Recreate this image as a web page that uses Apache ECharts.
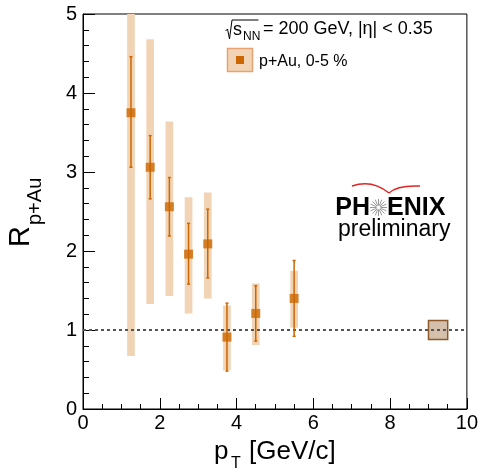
<!DOCTYPE html>
<html>
<head>
<meta charset="utf-8">
<script src="https://cdn.jsdelivr.net/npm/echarts@6/dist/echarts.min.js"></script>
<style>
html,body{margin:0;padding:0;background:#fff;}
#chart{width:481px;height:472px;}
</style>
</head>
<body>
<div id="chart"></div>
<script>
// ---- data ----
var pt     = [1.25, 1.75, 2.25, 2.75, 3.25, 3.75, 4.5, 5.5];
var rpa    = [3.75, 3.06, 2.56, 1.96, 2.09, 0.91, 1.21, 1.40];
var statLo = [3.06, 2.66, 2.19, 1.58, 1.66, 0.48, 0.86, 0.92];
var statHi = [4.46, 3.46, 2.93, 2.35, 2.53, 1.34, 1.56, 1.88];
var sysLo  = [0.67, 1.33, 1.43, 1.21, 1.40, 0.49, 0.81, 1.03];
var sysHi  = [5.00, 4.68, 3.64, 2.68, 2.74, 1.31, 1.59, 1.75];
var sysHalfWidth = 0.1;
var normBox = [9.0, 9.5, 0.88, 1.12]; // xLo, xHi, yLo, yHi
var xTicks = [0, 2, 4, 6, 8, 10];
var yTicks = [0, 1, 2, 3, 4, 5];

var ORANGE = '#cc6600';
var TAN = '#f1d4b5';
var FONT = '"Liberation Sans", Arial, sans-serif';

var chart = echarts.init(document.getElementById('chart'), null, {renderer: 'canvas'});

var sysData = pt.map(function (x, i) { return [x, sysLo[i], sysHi[i]]; });
var statData = pt.map(function (x, i) { return [x, statLo[i], statHi[i]]; });
var ptsData = pt.map(function (x, i) { return [x, rpa[i]]; });

var starChildren = [];
for (var k = 0; k < 16; k++) {
  var ang = k * Math.PI / 8;
  starChildren.push({type: 'line', shape: {x1: 2 * Math.cos(ang), y1: 2 * Math.sin(ang), x2: 8.5 * Math.cos(ang), y2: 8.5 * Math.sin(ang)},
    style: {stroke: '#9a9a9a', lineWidth: 1}});
}

var option = {
  animation: false,
  backgroundColor: '#fff',
  grid: {left: 83, right: 13, top: 14, bottom: 63, show: true, borderColor: '#000', borderWidth: 1, backgroundColor: 'transparent'},
  xAxis: {
    type: 'value', min: xTicks[0], max: xTicks[xTicks.length - 1], interval: 2,
    axisLine: {show: true, onZero: false, lineStyle: {color: '#000', width: 1}},
    axisTick: {show: true, inside: true, length: 11, lineStyle: {color: '#000'}},
    minorTick: {show: true, splitNumber: 4, length: 5, lineStyle: {color: '#000'}},
    splitLine: {show: false},
    axisLabel: {color: '#000', fontSize: 20, fontFamily: FONT, margin: 4,
      formatter: function (v) { return xTicks.indexOf(v) >= 0 ? String(v) : ''; }}
  },
  yAxis: {
    type: 'value', min: yTicks[0], max: yTicks[yTicks.length - 1], interval: 1,
    axisLine: {show: true, onZero: false, lineStyle: {color: '#000', width: 1}},
    axisTick: {show: true, inside: true, length: 12, lineStyle: {color: '#000'}},
    minorTick: {show: true, splitNumber: 5, length: 6, lineStyle: {color: '#000'}},
    splitLine: {show: false},
    axisLabel: {color: '#000', fontSize: 20, fontFamily: FONT, margin: 6,
      formatter: function (v) { return yTicks.indexOf(v) >= 0 ? String(v) : ''; }}
  },
  series: [
    {
      type: 'custom', name: 'sys', clip: true, z: 2,
      data: sysData,
      renderItem: function (params, api) {
        var x = api.value(0), lo = api.value(1), hi = api.value(2);
        var p1 = api.coord([x - sysHalfWidth, hi]);
        var p2 = api.coord([x + sysHalfWidth, lo]);
        return {type: 'rect', shape: {x: p1[0], y: p1[1], width: p2[0] - p1[0], height: p2[1] - p1[1]},
          style: {fill: TAN}};
      }
    },
    {
      type: 'custom', name: 'norm', z: 2,
      data: [normBox],
      renderItem: function (params, api) {
        var p1 = api.coord([api.value(0), api.value(3)]);
        var p2 = api.coord([api.value(1), api.value(2)]);
        return {type: 'rect', shape: {x: p1[0], y: p1[1], width: p2[0] - p1[0], height: p2[1] - p1[1]},
          style: {fill: '#d5c0ab', stroke: '#8c5a2c', lineWidth: 1.5}};
      }
    },
    {
      type: 'line', name: 'unity', z: 3, symbol: 'none', silent: true,
      data: [[xTicks[0], 1], [xTicks[xTicks.length - 1], 1]],
      lineStyle: {color: '#555', width: 2, type: [3, 3]}
    },
    {
      type: 'custom', name: 'stat', z: 4,
      data: statData,
      renderItem: function (params, api) {
        var x = api.value(0);
        var a = api.coord([x, api.value(2)]);
        var b = api.coord([x, api.value(1)]);
        var st = {stroke: ORANGE, lineWidth: 1.5};
        return {type: 'group', children: [
          {type: 'line', shape: {x1: a[0], y1: a[1], x2: b[0], y2: b[1]}, style: st},
          {type: 'line', shape: {x1: a[0] - 1.5, y1: a[1], x2: a[0] + 1.5, y2: a[1]}, style: st},
          {type: 'line', shape: {x1: b[0] - 1.5, y1: b[1], x2: b[0] + 1.5, y2: b[1]}, style: st}
        ]};
      }
    },
    {
      type: 'scatter', name: 'p+Au, 0-5 %', z: 5,
      data: ptsData, symbol: 'rect', symbolSize: 9,
      itemStyle: {color: ORANGE}
    }
  ],
  graphic: [
    // y axis title
    {type: 'text', x: 21, y: 247, rotation: Math.PI / 2,
      style: {text: 'R', font: '29px ' + FONT, fill: '#000', align: 'left', verticalAlign: 'middle'}},
    {type: 'text', x: 35, y: 225, rotation: Math.PI / 2,
      style: {text: 'p+Au', font: '20px ' + FONT, fill: '#000', align: 'left', verticalAlign: 'middle'}},
    // x axis title
    {type: 'text', x: 214, y: 452,
      style: {text: 'p', font: '26px ' + FONT, fill: '#000', align: 'left', verticalAlign: 'middle'}},
    {type: 'text', x: 231, y: 464,
      style: {text: 'T', font: '16px ' + FONT, fill: '#000', align: 'left', verticalAlign: 'middle'}},
    {type: 'text', x: 249, y: 452,
      style: {text: '[GeV/c]', font: '26px ' + FONT, fill: '#000', align: 'left', verticalAlign: 'middle'}},
    // legend header: sqrt(s_NN) = 200 GeV, |eta| < 0.35
    {type: 'polyline', shape: {points: [[225.5, 31], [227.5, 29], [229.5, 39], [232, 20], [258.5, 20]]},
      style: {stroke: '#000', lineWidth: 1, fill: null}},
    {type: 'text', x: 233, y: 30,
      style: {text: 's', font: '18px ' + FONT, fill: '#000', align: 'left', verticalAlign: 'middle'}},
    {type: 'text', x: 243, y: 36.5,
      style: {text: 'NN', font: '12px ' + FONT, fill: '#000', align: 'left', verticalAlign: 'middle'}},
    {type: 'text', x: 263, y: 29.5,
      style: {text: '= 200 GeV, |\u03b7| < 0.35', font: '18px ' + FONT, fill: '#000', align: 'left', verticalAlign: 'middle'}},
    // legend entry
    {type: 'rect', shape: {x: 227.5, y: 48.5, width: 25, height: 23},
      style: {fill: TAN, stroke: '#e4a371', lineWidth: 1.5}},
    {type: 'rect', shape: {x: 236, y: 56, width: 8, height: 8}, style: {fill: ORANGE}},
    {type: 'text', x: 259, y: 61.5,
      style: {text: 'p+Au, 0-5 %', font: '16px ' + FONT, fill: '#000', align: 'left', verticalAlign: 'middle'}},
    // PHENIX preliminary
    {type: 'bezierCurve', shape: {x1: 352, y1: 186, cpx1: 372, cpy1: 179, x2: 389, y2: 193},
      style: {stroke: '#e02424', lineWidth: 1.5, fill: null}},
    {type: 'bezierCurve', shape: {x1: 389, y1: 193, cpx1: 397, cpy1: 185, x2: 420, y2: 186},
      style: {stroke: '#e02424', lineWidth: 1.5, fill: null}},
    {type: 'text', x: 370, y: 208,
      style: {text: 'PH', font: 'bold 25px ' + FONT, fill: '#000', align: 'right', verticalAlign: 'middle'}},
    {type: 'text', x: 387, y: 208,
      style: {text: 'ENIX', font: 'bold 25px ' + FONT, fill: '#000', align: 'left', verticalAlign: 'middle'}},
    {type: 'group', x: 378.5, y: 207.5, children: starChildren},
    {type: 'text', x: 338, y: 230,
      style: {text: 'preliminary', font: '23px ' + FONT, fill: '#000', align: 'left', verticalAlign: 'middle'}}
  ]
};
chart.setOption(option);
</script>
</body>
</html>
